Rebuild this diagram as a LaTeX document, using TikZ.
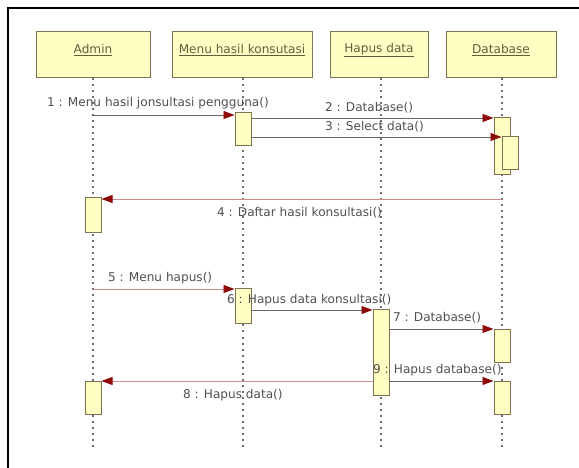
\documentclass[tikz,border=0pt]{standalone}
\usepackage{fontspec}
\setmainfont{DejaVu Sans}
\usetikzlibrary{arrows.meta}
\definecolor{boxfill}{RGB}{255,255,196}
\definecolor{boxline}{RGB}{125,115,80}
\definecolor{msgline}{RGB}{110,100,100}
\definecolor{retline}{RGB}{205,140,140}
\definecolor{tipred}{RGB}{140,10,10}
\definecolor{txt}{RGB}{80,80,80}
\definecolor{objtxt}{RGB}{95,95,60}
\definecolor{lifec}{RGB}{110,110,110}
\tikzset{
  lbl/.style={font=\fontsize{12.1}{14}\selectfont, text=txt, inner sep=0pt, anchor=west},
  objbox/.style={draw=boxline, fill=boxfill, line width=1pt, minimum height=46pt, inner sep=0pt},
  objlbl/.style={font=\fontsize{12.1}{14}\selectfont, text=objtxt, inner sep=0pt},
  actbox/.style={draw=boxline, fill=boxfill, line width=1pt, minimum width=16pt, inner sep=0pt},
  lifeline/.style={draw=lifec, line width=1.2pt, dash pattern=on 2pt off 4pt},
  msg/.style={draw=msgline, line width=0.9pt, -{Triangle[length=11pt,width=8pt,color=tipred]}},
  ret/.style={draw=retline, line width=0.9pt, -{Triangle[length=11pt,width=8pt,color=tipred]}},
}
\begin{document}
\begin{tikzpicture}[x=1pt,y=-1pt]
\clip (0,0) rectangle (579,468);
\fill[white] (0,0) rectangle (579,468);
% frame
\draw[line width=2pt] (8,480) |- (595,8);
% object boxes
\node[objbox, minimum width=114pt] (admin) at (93,55) {};
\node[objbox, minimum width=140pt] (menu) at (242,55) {};
\node[objbox, minimum width=98pt] (hapus) at (379,55) {};
\node[objbox, minimum width=110pt] (db) at (501,55) {};
\node[objlbl] (adminL) at (93,50) {\underline{Admin}};
\node[objlbl] (menuL) at (242,50) {\underline{Menu hasil konsutasi}};
\node[objlbl] (hapusL) at (379,50) {\underline{Hapus data}};
\node[objlbl] (dbL) at (501,50) {\underline{Database}};
% lifelines
\coordinate (aEnd) at (93,448);
\coordinate (mEnd) at (243,448);
\coordinate (hEnd) at (381,448);
\coordinate (dEnd) at (502,448);
\draw[lifeline] (admin.south -| aEnd) -- (aEnd);
\draw[lifeline] (menu.south -| mEnd) -- (mEnd);
\draw[lifeline] (hapus.south -| hEnd) -- (hEnd);
\draw[lifeline] (db.south -| dEnd) -- (dEnd);
% activations
\node[actbox, minimum height=33pt] (mA1) at (243,129.5) {};
\node[actbox, minimum height=57pt] (dA) at (502,146.5) {};
\node[actbox, minimum height=33pt] (dB) at (510,153.5) {};
\node[actbox, minimum height=35pt] (aA1) at (93,215.5) {};
\node[actbox, minimum height=35pt] (mA2) at (243,305.5) {};
\node[actbox, minimum height=86pt] (hA) at (381,352) {};
\node[actbox, minimum height=33pt] (dC) at (502,345.5) {};
\node[actbox, minimum height=33pt] (dD) at (502,397.5) {};
\node[actbox, minimum height=33pt] (aA2) at (93,397.5) {};
% message heights
\coordinate (y1) at (0,115);
\coordinate (y2) at (0,118);
\coordinate (y3) at (0,137);
\coordinate (y4) at (0,199);
\coordinate (y5) at (0,289);
\coordinate (y6) at (0,310);
\coordinate (y7) at (0,329);
\coordinate (y8) at (0,381);
% messages
\draw[msg] (aEnd |- y1) -- (mA1.west |- y1);
\draw[msg] (mA1.east |- y2) -- (dA.west |- y2);
\draw[msg] (mA1.east |- y3) -- (dB.west |- y3);
\draw[ret] (dEnd |- y4) -- (aA1.east |- y4);
\draw[ret] (aEnd |- y5) -- (mA2.west |- y5);
\draw[msg] (mA2.east |- y6) -- (hA.west |- y6);
\draw[msg] (hA.east |- y7) -- (dC.west |- y7);
\draw[ret] (hA.west |- y8) -- (aA2.east |- y8);
\draw[msg] (hA.east |- y8) -- (dD.west |- y8);
% labels
\node[lbl] (l1) at (47,103) {1 : Menu hasil jonsultasi pengguna()};
\node[lbl] (l2) at (325,108) {2 : Database()};
\node[lbl] (l3) at (325,127) {3 : Select data()};
\node[lbl] (l4) at (217,213) {4 : Daftar hasil konsultasi()};
\node[lbl] (l5) at (108,278) {5 : Menu hapus()};
\node[lbl] (l6) at (227,300) {6 : Hapus data konsultasi()};
\node[lbl] (l7) at (393,318) {7 : Database()};
\node[lbl] (l8) at (183,395) {8 : Hapus data()};
\node[lbl] (l9) at (373,370) {9 : Hapus database()};
\end{tikzpicture}
\end{document}
